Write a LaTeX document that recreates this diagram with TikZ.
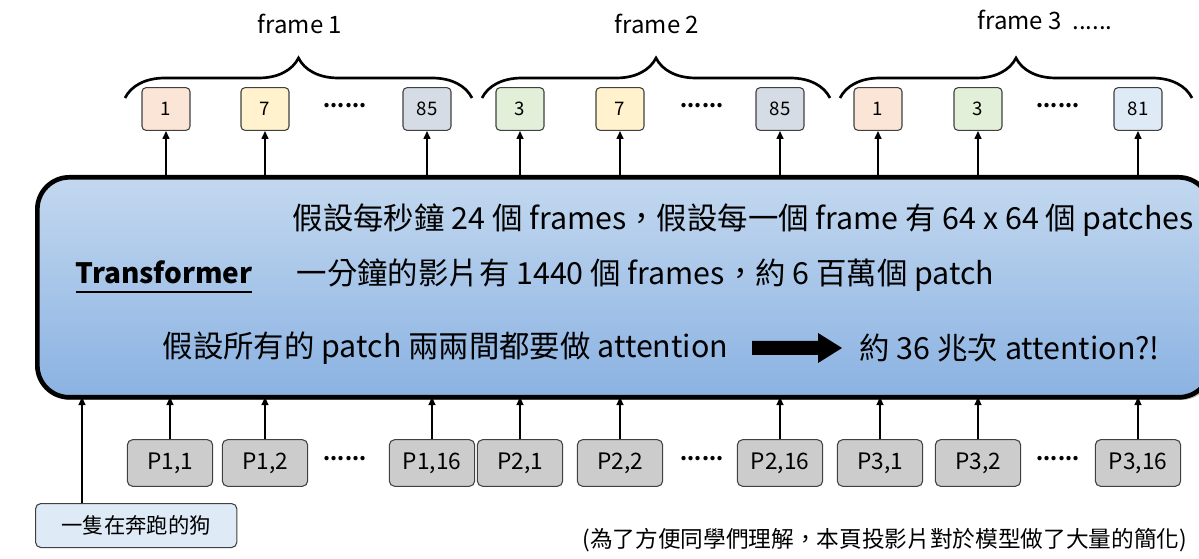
\documentclass[tikz,border=0pt]{standalone}
\usepackage{fontspec}
\setmainfont{Noto Sans CJK TC}
\usetikzlibrary{decorations.pathreplacing,arrows.meta,shadows}
\begin{document}
\begin{tikzpicture}[x=0.75pt,y=-0.75pt,
  tok/.style={draw=black!75,rounded corners=3pt,minimum width=36pt,minimum height=32pt,font=\fontsize{14}{16}\selectfont,line width=0.8pt},
  pbox/.style={draw=black!75,fill=black!20,rounded corners=4pt,minimum width=64pt,minimum height=35pt,font=\fontsize{17}{19}\selectfont,line width=0.8pt},
  up/.style={-{Triangle[length=6pt,width=5pt]},line width=1.6pt},
  br/.style={decorate,decoration={brace,amplitude=30pt},line width=2pt},
  dots/.style={font=\bfseries\fontsize{15}{15}\selectfont},
  big/.style={font=\fontsize{22.8}{26}\selectfont,anchor=west}]
\useasboundingbox (0,0) rectangle (1199,559);
\definecolor{ttop}{HTML}{C3D8EF}\definecolor{tbot}{HTML}{8AB2E2}
\begin{scope}
\clip (0,0) rectangle (1199,559);
\node[draw=black,line width=3.5pt,rounded corners=24pt,top color=ttop,bottom color=tbot,
  minimum width=880pt,minimum height=165pt,anchor=north west,drop shadow={shadow xshift=2pt,shadow yshift=-2pt}] (T) at (35,175) {};
\end{scope}
\definecolor{cpeach}{HTML}{FBE5D6}\definecolor{cyel}{HTML}{FFF2CC}\definecolor{cgray}{HTML}{D6DCE5}
\definecolor{cgreen}{HTML}{E2F0D9}\definecolor{cblue}{HTML}{DEEBF7}
\foreach \n/\x/\t/\c in {a1/166/1/cpeach,a2/265/7/cyel,a3/427/85/cgray,b1/520/3/cgreen,b2/620/7/cyel,b3/780/85/cgray,c1/878/1/cpeach,c2/978/3/cgreen,c3/1138/81/cblue}{
  \node[tok,fill=\c] (\n) at (\x,109) {\t};
  \coordinate (t\n) at (\x,175);
  \draw[up] (t\n) -- (\n.south);
}
\foreach \n/\x in {d1/345,d2/702,d3/1058}{\node[dots] (\n) at (\x,106) {......};}
\coordinate (f1a) at (125,98);\coordinate (f1b) at (472,98);
\coordinate (f2a) at (482,98);\coordinate (f2b) at (830,98);
\coordinate (f3a) at (840,98);\coordinate (f3b) at (1192,98);
\draw[br] (f1a) -- (f1b);\draw[br] (f2a) -- (f2b);\draw[br] (f3a) -- (f3b);
\node[font=\fontsize{18}{20}\selectfont] (F1) at (300,24) {frame 1};
\node[font=\fontsize{18}{20}\selectfont] (F2) at (657,24) {frame 2};
\node[font=\fontsize{18}{20}\selectfont] (F3) at (1045,20) {frame 3 \ ......};
\foreach \n/\x/\t in {p1/170/{P1,1},p2/265/{P1,2},p3/432/{P1,16},q1/520/{P2,1},q2/620/{P2,2},q3/780/{P2,16},r1/880/{P3,1},r2/978/{P3,2},r3/1138/{P3,16}}{
  \node[pbox] (\n) at (\x,463) {\t};
  \coordinate (s\n) at (\x,397);
  \draw[up] (\n.north) -- (s\n);
}
\foreach \n/\x in {e1/345,e2/702,e3/1058}{\node[dots] (\n) at (\x,459) {......};}
\node[draw=black!75,fill=cblue,rounded corners=4pt,minimum width=151pt,minimum height=33pt,font=\fontsize{16}{18}\selectfont,line width=0.8pt,anchor=north west] (dog) at (35,503) {一隻在奔跑的狗};
\coordinate (sd) at (82,397);
\draw[up] (dog.north -| sd) -- (sd);
\node[font=\bfseries\fontsize{21}{24}\selectfont] (tr) at (164,272) {Transformer};
\draw[line width=1pt] (76,292) -- (252,292);
\node[big] (l1) at (288,220) {假設每秒鐘 24 個 frames，假設每一個 frame 有 64 x 64 個 patches};
\node[big] (l2) at (292,275) {一分鐘的影片有 1440 個 frames，約 6 百萬個 patch};
\node[big] (l3) at (158,348) {假設所有的 patch 兩兩間都要做 attention};
\node[big] (l4) at (855,348) {約 36 兆次 attention?!};
\fill (752,341) -- (818,341) -- (818,333) -- (842,348) -- (818,363) -- (818,355) -- (752,355) -- cycle;
\node[font=\fontsize{17}{19}\selectfont,anchor=east] (note) at (1192,540) {(為了方便同學們理解，本頁投影片對於模型做了大量的簡化)};
\end{tikzpicture}
\end{document}
